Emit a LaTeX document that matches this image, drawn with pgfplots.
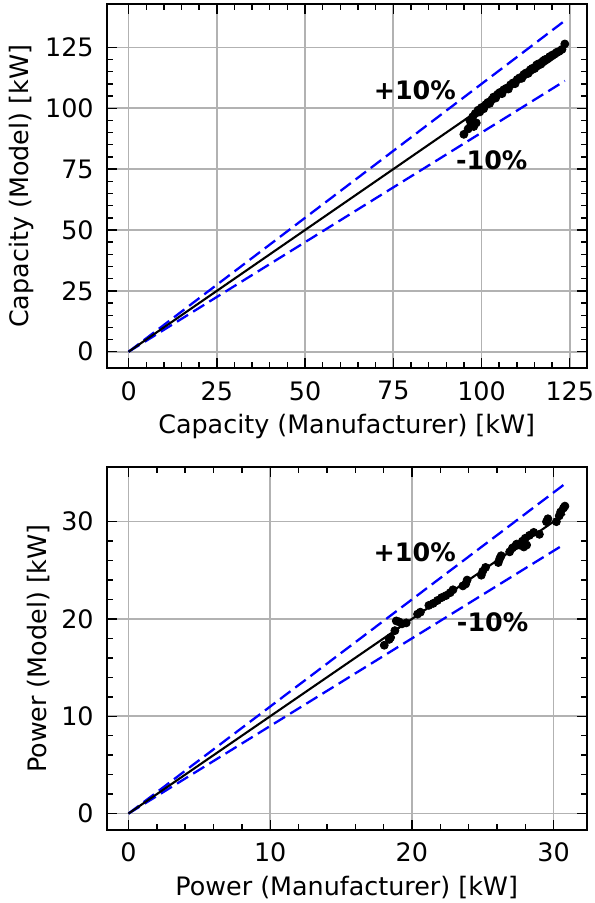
\documentclass[border=0pt]{standalone}
\usepackage{fontspec}
\setmainfont{DejaVu Sans}
\usepackage{pgfplots}
\pgfplotsset{compat=1.18}

% measured data points (manufacturer, model)
\pgfplotstableread{
x y
95.0 89.3
96.2 91.5
96.7 95.0
97.0 93.2
97.5 96.5
97.8 92.5
98.2 97.8
98.5 94.0
99.0 99.2
99.5 98.5
100.0 100.3
100.6 99.8
101.2 101.5
101.8 102.4
102.3 102.0
102.9 103.5
103.4 104.6
104.0 104.2
104.6 105.8
105.2 106.5
105.8 106.0
106.3 107.6
107.0 108.2
107.6 107.9
108.2 109.6
108.9 110.4
109.5 110.1
110.1 111.8
110.8 112.5
111.4 112.3
112.0 113.9
112.6 114.5
113.2 114.3
113.8 115.8
114.4 116.4
115.0 116.3
115.6 117.8
116.2 118.3
116.8 118.1
117.4 119.4
118.0 120.0
118.7 120.3
119.3 121.2
120.0 121.8
120.6 122.2
121.3 123.0
122.0 123.4
122.8 124.2
123.6 126.4
}\capdata

\pgfplotstableread{
x y
18.05 17.3
18.4 17.9
18.5 18.1
18.8 18.8
18.9 19.8
19.1 19.7
19.3 19.5
19.6 19.6
20.4 20.5
20.6 20.7
21.2 21.4
21.5 21.6
21.8 21.9
22.1 22.2
22.4 22.4
22.7 22.7
22.9 23.0
23.6 23.4
23.8 23.6
23.9 24.0
24.9 24.5
25.0 24.9
25.2 25.3
26.1 25.8
26.2 26.2
26.3 26.5
26.9 26.9
27.1 27.3
27.3 27.5
27.4 27.7
27.6 27.6
27.8 28.0
27.9 27.4
28.0 28.3
28.1 27.6
28.3 28.6
28.6 28.9
29.0 28.7
29.5 30.0
29.6 30.3
30.2 30.0
30.4 30.6
30.5 31.0
30.7 31.4
30.8 31.6
}\powdata

\pgfplotsset{
  parity/.style={
    scale only axis,
    width=240pt,
    font=\fontsize{12.7}{15}\selectfont,
    /pgf/number format/assume math mode=true,
    axis line style={line width=1pt},
    tick align=inside,
    tick pos=both,
    xticklabel pos=bottom, yticklabel pos=left,
    major tick length=5pt, minor tick length=3pt,
    every tick/.style={black, line width=0.7pt},
    minor tick num=4,
    grid=major,
    major grid style={black!30, line width=0.8pt},
    xticklabel style={yshift=-3pt},
    yticklabel style={xshift=-3pt},
    ylabel style={yshift=-1pt},
  },
  tol/.style={blue, dashed, line width=1.15pt, dash pattern=on 6.5pt off 3pt},
}

\begin{document}
\begin{tikzpicture}
\useasboundingbox (0,0) rectangle (297pt,-451.5pt);

\begin{axis}[parity,
    at={(53.35pt,-184.15pt)}, anchor=south west,
    height=182pt,
    xmin=-6.2, xmax=129.8, ymin=-6.8, ymax=142.7,
    xtick={0,25,50,75,100,125}, ytick={0,25,50,75,100,125},
    xlabel={Capacity (Manufacturer) [kW]},
    ylabel={Capacity (Model) [kW]},
]
\addplot[tol] coordinates {(0,0) (123.6,135.96)};
\addplot[tol] coordinates {(0,0) (123.6,111.24)};
\addplot[black, line width=1.05pt] coordinates {(0,0) (123.6,123.6)};
\addplot[only marks, mark=*, mark size=2pt, black] table {\capdata};
\node[font=\fontsize{12.7}{15}\selectfont\bfseries] at (axis cs:81.1,107.5) {+10\%};
\node[font=\fontsize{12.7}{15}\selectfont\bfseries] at (axis cs:102.9,78.7) {-10\%};
\end{axis}

\begin{axis}[parity,
    at={(53.35pt,-415pt)}, anchor=south west,
    height=181.4pt,
    xmin=-1.54, xmax=32.34, ymin=-1.69, ymax=35.6,
    xtick={0,10,20,30}, ytick={0,10,20,30},
    xlabel={Power (Manufacturer) [kW]},
    ylabel={Power (Model) [kW]},
]
\addplot[tol] coordinates {(0,0) (30.8,33.88)};
\addplot[tol] coordinates {(0,0) (30.8,27.72)};
\addplot[black, line width=1.05pt] coordinates {(0,0) (30.8,30.8)};
\addplot[only marks, mark=*, mark size=2pt, black] table {\powdata};
\node[font=\fontsize{12.7}{15}\selectfont\bfseries] at (axis cs:20.2,26.9) {+10\%};
\node[font=\fontsize{12.7}{15}\selectfont\bfseries] at (axis cs:25.7,19.7) {-10\%};
\end{axis}
\end{tikzpicture}
\end{document}
